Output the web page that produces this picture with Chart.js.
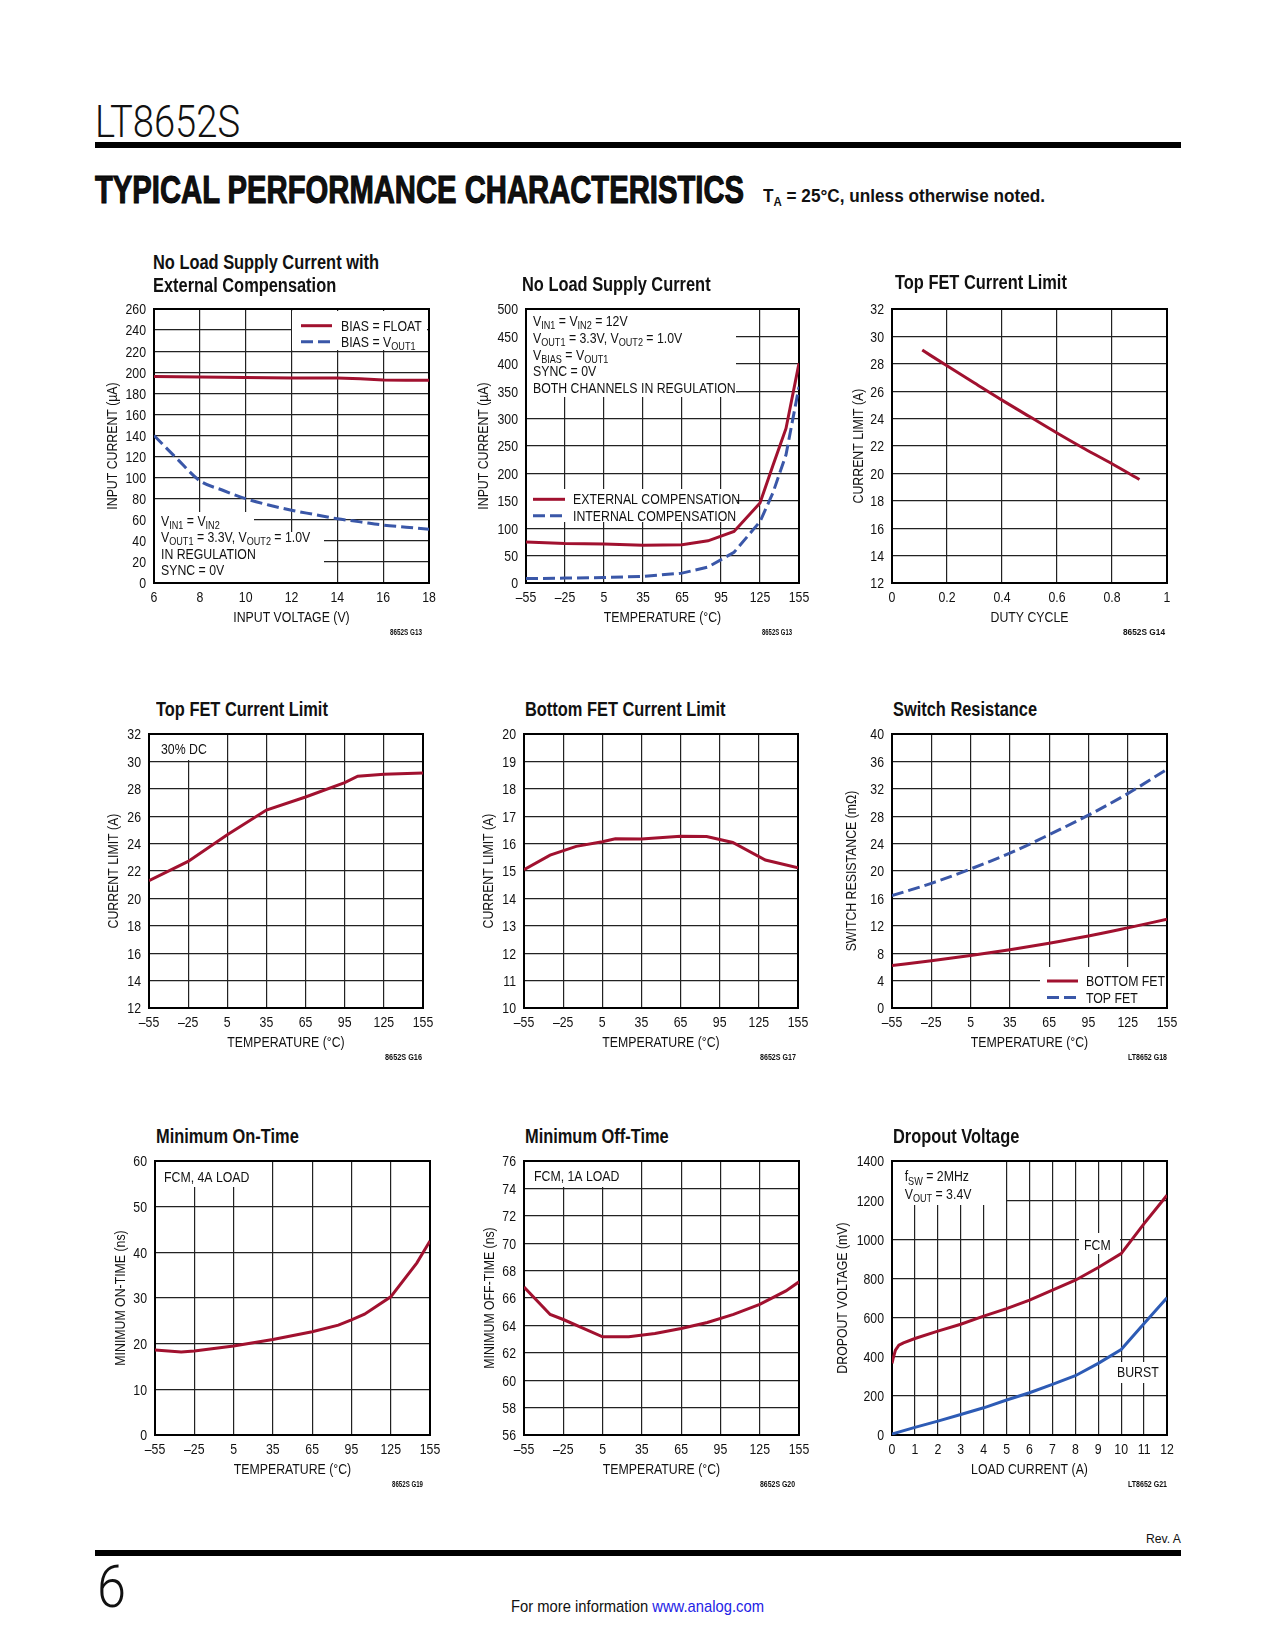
<!DOCTYPE html>
<html>
<head>
<meta charset="utf-8">
<script src="https://cdn.jsdelivr.net/npm/chart.js@4.4.1/dist/chart.umd.min.js"></script>
<style>
body { margin: 0; background: #fff; }
#page { position: relative; width: 1275px; height: 1650px; overflow: hidden;
  font-family: 'Liberation Sans', Arial, sans-serif; color: #111; }
.t { position: absolute; white-space: nowrap; line-height: 1; transform-origin: 0 0; }
.thin { font-family: Roboto, 'Liberation Sans', sans-serif; font-weight: 300; }
.bar { position: absolute; background: #000; }
canvas { position: absolute; }
</style>
</head>
<body>
<div id="page"></div>
<script>
// ---- data ----
// No Load Supply Current with External Compensation
const vinX = [6, 7, 8, 9, 10, 11, 12, 13, 14, 15, 16, 17, 18];
const iqBiasFloat = [196, 195.8, 195.5, 195.3, 195, 194.8, 194.5, 194.5, 194.5, 193.8, 192.7, 192.5, 192.4];
const iqBiasVout1 = [140, 118, 97, 88, 80, 74, 69, 65, 61, 58, 55, 53, 51];
const vinTicks = [6, 8, 10, 12, 14, 16, 18];
const iq1Ticks = [0, 20, 40, 60, 80, 100, 120, 140, 160, 180, 200, 220, 240, 260];

// No Load Supply Current vs temperature
const tempNL = [-55, -25, 5, 35, 65, 85, 105, 125, 135, 145, 155];
const iqExtComp = [75, 72, 71, 69, 70, 77, 94, 146, 215, 282, 401];
const iqIntComp = [8, 9, 10, 12, 18, 29, 56, 112, 165, 234, 358];
const tempTicks = [-55, -25, 5, 35, 65, 95, 125, 155];
const iq2Ticks = [0, 50, 100, 150, 200, 250, 300, 350, 400, 450, 500];

// Top FET current limit vs duty cycle
const dutyX = [0.11, 0.2, 0.3, 0.4, 0.5, 0.6, 0.7, 0.8, 0.9];
const topLimDuty = [29.0, 27.85, 26.6, 25.35, 24.15, 22.95, 21.8, 20.7, 19.55];
const dutyTicks = [0, 0.2, 0.4, 0.6, 0.8, 1];
const limTicks = [12, 14, 16, 18, 20, 22, 24, 26, 28, 30, 32];

// Top FET current limit vs temperature
const tempTop = [-55, -25, 5, 35, 65, 95, 105, 125, 155];
const topLimTemp = [21.3, 22.7, 24.65, 26.45, 27.4, 28.45, 28.92, 29.07, 29.15];

// Bottom FET current limit
const tempBot = [-55, -35, -15, 5, 15, 35, 65, 85, 105, 130, 155];
const botLimTemp = [15.05, 15.58, 15.9, 16.07, 16.18, 16.17, 16.27, 16.26, 16.04, 15.4, 15.12];
const botTicks = [10, 11, 12, 13, 14, 15, 16, 17, 18, 19, 20];

// Switch resistance
const tempRes = [-55, -25, 5, 35, 65, 95, 125, 155];
const rBottomFet = [6.2, 6.9, 7.65, 8.5, 9.45, 10.5, 11.7, 12.95];
const rTopFet = [16.4, 18.2, 20.3, 22.6, 25.3, 28.15, 31.3, 34.85];
const resTicks = [0, 4, 8, 12, 16, 20, 24, 28, 32, 36, 40];

// Minimum on-time
const tempOn = [-55, -35, -25, 5, 35, 65, 85, 95, 105, 125, 145, 155];
const minOnTime = [18.6, 18.15, 18.4, 19.5, 20.9, 22.6, 24.05, 25.2, 26.45, 30.25, 37.7, 42.5];
const onTicks = [0, 10, 20, 30, 40, 50, 60];

// Minimum off-time
const tempOff = [-55, -35, -25, 5, 25, 45, 65, 85, 105, 125, 145, 155];
const minOffTime = [66.8, 64.8, 64.43, 63.17, 63.17, 63.41, 63.78, 64.21, 64.8, 65.53, 66.52, 67.18];
const offTicks = [56, 58, 60, 62, 64, 66, 68, 70, 72, 74, 76];

// Dropout voltage
const loadFcm = [0, 0.05, 0.15, 0.3, 0.5, 1, 2, 3, 4, 5, 6, 7, 8, 9, 10, 11, 12];
const dropFcm = [366, 391, 434, 459, 471, 493, 531, 566, 607, 646, 689, 740, 791, 856, 927, 1080, 1225];
const loadBurst = [0, 1, 2, 3, 4, 5, 6, 7, 8, 9, 10, 11, 12];
const dropBurst = [5, 39, 71, 105, 139, 179, 216, 259, 303, 366, 437, 570, 701];
const loadTicks = [0, 1, 2, 3, 4, 5, 6, 7, 8, 9, 10, 11, 12];
const dropTicks = [0, 200, 400, 600, 800, 1000, 1200, 1400];

// ---- styling ----
const FAM = "'Liberation Sans', Arial, sans-serif";
const K = 0.82;          // horizontal squeeze, stands in for a condensed face
const LFS = 15;          // label font size
const RED = '#a1112f';
const BLUE = '#3a57a8';
const DASH = [12, 5];

const page = document.getElementById('page');

function txt(x, base, fs, html, opts) {
  opts = opts || {};
  const d = document.createElement('div');
  d.className = 't' + (opts.thin ? ' thin' : '');
  d.style.left = x + 'px';
  d.style.top = (base - 0.846 * fs) + 'px';
  d.style.fontSize = fs + 'px';
  if (opts.bold) d.style.fontWeight = 'bold';
  if (opts.w) d.dataset.w = opts.w;
  else d.style.transform = 'scaleX(' + K + ')';
  d.innerHTML = html;
  page.appendChild(d);
  return d;
}
function bar(x, y, w, h) {
  const d = document.createElement('div');
  d.className = 'bar';
  Object.assign(d.style, { left: x + 'px', top: y + 'px', width: w + 'px', height: h + 'px' });
  page.appendChild(d);
}

// condensed text with V_{OUT1} style subscripts
function drawText(ctx, s, x, y, o) {
  o = o || {};
  const fs = o.fs || LFS;
  const segs = s.split(/(_\{[^}]*\})/).filter(p => p).map(p => {
    const sub = p.startsWith('_{');
    return { t: sub ? p.slice(2, -1) : p, sub: sub };
  });
  const fontOf = sg => (sg.sub ? fs * 0.74 : fs) + 'px ' + FAM;
  let w = 0;
  segs.forEach(sg => { ctx.font = fontOf(sg); sg.w = ctx.measureText(sg.t).width; w += sg.w; });
  const x0 = o.align === 'center' ? -w * K / 2 : o.align === 'right' ? -w * K : 0;
  ctx.save();
  ctx.textAlign = 'left';
  ctx.textBaseline = 'alphabetic';
  ctx.translate(x + x0, y);
  ctx.scale(K, 1);
  let cx = 0;
  segs.forEach(sg => {
    ctx.font = fontOf(sg);
    ctx.fillText(sg.t, cx, sg.sub ? fs * 0.22 : 0);
    cx += sg.w;
  });
  ctx.restore();
}

const fmtTick = v => String(Number(v.toFixed(2))).replace('-', '\u2013');

function decorPlugin(s) {
  const n = s.notes || {};
  return {
    id: 'decor',
    beforeDatasetsDraw(chart) {
      const ctx = chart.ctx, a = chart.chartArea;
      ctx.save();
      ctx.fillStyle = '#fff';
      (n.boxes || []).forEach(b => ctx.fillRect(a.left + b[0], a.top + b[1], b[2] - b[0], b[3] - b[1]));
      ctx.strokeStyle = '#000';
      ctx.lineWidth = 2;
      ctx.strokeRect(a.left, a.top, a.right - a.left, a.bottom - a.top);
      ctx.fillStyle = '#111';
      (n.keys || []).forEach(k => {
        ctx.beginPath();
        ctx.strokeStyle = k.color;
        ctx.lineWidth = 3;
        ctx.setLineDash(k.dash || []);
        ctx.moveTo(a.left + k.x0, a.top + k.y);
        ctx.lineTo(a.left + k.x1, a.top + k.y);
        ctx.stroke();
        ctx.setLineDash([]);
        drawText(ctx, k.text, a.left + k.tx, a.top + k.y + 5);
      });
      (n.texts || []).forEach(t => drawText(ctx, t[2], a.left + t[0], a.top + t[1]));
      ctx.restore();
    },
    afterDraw(chart) {
      const ctx = chart.ctx, a = chart.chartArea;
      const sx = chart.scales.x, sy = chart.scales.y;
      const cap = 0.36 * LFS;
      ctx.save();
      ctx.fillStyle = '#111';
      s.xt.forEach(v => drawText(ctx, fmtTick(v), sx.getPixelForValue(v), a.bottom + 14 + cap, { align: 'center' }));
      s.yt.forEach(v => drawText(ctx, fmtTick(v), a.left - 8, sy.getPixelForValue(v) + cap, { align: 'right' }));
      drawText(ctx, s.xTitle, (a.left + a.right) / 2, a.bottom + 34 + cap, { align: 'center' });
      ctx.translate(a.left - s.d, (a.top + a.bottom) / 2);
      ctx.rotate(-Math.PI / 2);
      drawText(ctx, s.yTitle, 0, cap, { align: 'center' });
      ctx.restore();
    }
  };
}

function makeChart(s) {
  const padL = s.d + 14, padT = 14, padR = 30, padB = 50;
  const cv = document.createElement('canvas');
  cv.width = s.W + padL + padR;
  cv.height = s.H + padT + padB;
  cv.style.left = (s.L - padL) + 'px';
  cv.style.top = (s.T - padT) + 'px';
  page.appendChild(cv);
  const grid = { color: '#222', lineWidth: 1.2, drawTicks: false };
  new Chart(cv, {
    type: 'line',
    data: {
      datasets: s.series.map(r => ({
        data: r.x.map((x, i) => ({ x: x, y: r.y[i] })),
        borderColor: r.color,
        borderWidth: 3,
        borderDash: r.dash || [],
        pointRadius: 0,
        cubicInterpolationMode: r.smooth ? 'monotone' : 'default',
        tension: 0,
        fill: false
      }))
    },
    options: {
      responsive: false,
      animation: false,
      devicePixelRatio: 1,
      layout: { padding: { top: padT, right: padR, left: 0, bottom: 0 } },
      plugins: { legend: { display: false }, tooltip: { enabled: false } },
      scales: {
        x: {
          type: 'linear', min: s.xt[0], max: s.xt[s.xt.length - 1],
          afterBuildTicks: sc => { sc.ticks = s.xt.map(v => ({ value: v })); },
          afterFit: sc => { sc.height = padB; },
          grid: grid, border: { display: false },
          ticks: { display: false }
        },
        y: {
          type: 'linear', min: s.yt[0], max: s.yt[s.yt.length - 1],
          afterBuildTicks: sc => { sc.ticks = s.yt.map(v => ({ value: v })); },
          afterFit: sc => { sc.width = padL; },
          grid: grid, border: { display: false },
          ticks: { display: false }
        }
      }
    },
    plugins: [decorPlugin(s)]
  });
  s.title.forEach((line, i) => txt(s.tx, s.tb[i], 20, line, { bold: true }));
  txt(s.code[0], s.code[2], 8.5, s.code[3], { bold: true, w: s.code[1] });
}

// ---- page header / footer ----
txt(95, 137, 45, 'LT8652S', { w: 145, thin: true });
bar(95, 142, 1086, 6);
const head = txt(95, 203, 38, 'TYPICAL PERFORMANCE CHARACTERISTICS', { bold: true, w: 649 });
head.style.webkitTextStroke = '1px #000';
txt(763, 202, 18, 'T<sub style="font-size:12px;vertical-align:-4px">A</sub> = 25°C, unless otherwise noted.', { bold: true, w: 282 });
txt(1146, 1543, 13, 'Rev. A', { w: 35 });
bar(95, 1550, 1086, 6);
txt(97, 1608, 60, '6', { w: 29, thin: true });
txt(511, 1612, 17, 'For more information <span style="color:#2323e6">www.analog.com</span>', { w: 253 });

// ---- charts ----
makeChart({
  L: 154, T: 309, W: 275, H: 274, d: 42,
  xt: vinTicks, yt: iq1Ticks, xTitle: 'INPUT VOLTAGE (V)', yTitle: 'INPUT CURRENT (µA)',
  series: [
    { x: vinX, y: iqBiasFloat, color: RED },
    { x: vinX, y: iqBiasVout1, color: BLUE, dash: DASH, smooth: true }
  ],
  title: ['No Load Supply Current with', 'External Compensation'], tx: 153, tb: [269, 292],
  code: [390, 32, 635, '8652S G13'],
  notes: {
    boxes: [[138, 2, 273, 41], [0, 203, 100, 223], [0, 223, 170, 273]],
    keys: [
      { x0: 147, x1: 178, tx: 187, y: 16.7, color: RED, text: 'BIAS = FLOAT' },
      { x0: 147, x1: 178, tx: 187, y: 32.7, color: BLUE, dash: DASH, text: 'BIAS = V_{OUT1}' }
    ],
    texts: [[7, 217, 'V_{IN1} = V_{IN2}'], [7, 233, 'V_{OUT1} = 3.3V, V_{OUT2} = 1.0V'],
            [7, 249.5, 'IN REGULATION'], [7, 266, 'SYNC = 0V']]
  }
});

makeChart({
  L: 526, T: 309, W: 273, H: 274, d: 43,
  xt: tempTicks, yt: iq2Ticks, xTitle: 'TEMPERATURE (°C)', yTitle: 'INPUT CURRENT (µA)',
  series: [
    { x: tempNL, y: iqExtComp, color: RED },
    { x: tempNL, y: iqIntComp, color: BLUE, dash: DASH }
  ],
  title: ['No Load Supply Current'], tx: 522, tb: [291],
  code: [762, 30, 635, '8652S G13'],
  notes: {
    boxes: [[0, 0, 210, 88], [0, 180, 211, 213]],
    keys: [
      { x0: 7, x1: 39, tx: 47, y: 190.3, color: RED, text: 'EXTERNAL COMPENSATION' },
      { x0: 7, x1: 39, tx: 47, y: 206.7, color: BLUE, dash: DASH, text: 'INTERNAL COMPENSATION' }
    ],
    texts: [[7, 16.7, 'V_{IN1} = V_{IN2} = 12V'], [7, 33.7, 'V_{OUT1} = 3.3V, V_{OUT2} = 1.0V'],
            [7, 51, 'V_{BIAS} = V_{OUT1}'], [7, 66.7, 'SYNC = 0V'], [7, 83.7, 'BOTH CHANNELS IN REGULATION']]
  }
});

makeChart({
  L: 892, T: 309, W: 275, H: 274, d: 34,
  xt: dutyTicks, yt: limTicks, xTitle: 'DUTY CYCLE', yTitle: 'CURRENT LIMIT (A)',
  series: [{ x: dutyX, y: topLimDuty, color: RED, smooth: true }],
  title: ['Top FET Current Limit'], tx: 895, tb: [289],
  code: [1123, 42, 635, '8652S G14']
});

makeChart({
  L: 149, T: 734, W: 274, H: 274, d: 36,
  xt: tempTicks, yt: limTicks, xTitle: 'TEMPERATURE (°C)', yTitle: 'CURRENT LIMIT (A)',
  series: [{ x: tempTop, y: topLimTemp, color: RED }],
  title: ['Top FET Current Limit'], tx: 156, tb: [716],
  code: [385, 37, 1060, '8652S G16'],
  notes: { boxes: [[0, 0, 62, 26]], texts: [[12, 20.3, '30% DC']] }
});

makeChart({
  L: 524, T: 734, W: 274, H: 274, d: 36,
  xt: tempTicks, yt: botTicks, xTitle: 'TEMPERATURE (°C)', yTitle: 'CURRENT LIMIT (A)',
  series: [{ x: tempBot, y: botLimTemp, color: RED }],
  title: ['Bottom FET Current Limit'], tx: 525, tb: [716],
  code: [760, 36, 1060, '8652S G17']
});

makeChart({
  L: 892, T: 734, W: 275, H: 274, d: 41,
  xt: tempTicks, yt: resTicks, xTitle: 'TEMPERATURE (°C)', yTitle: 'SWITCH RESISTANCE (mΩ)',
  series: [
    { x: tempRes, y: rBottomFet, color: RED, smooth: true },
    { x: tempRes, y: rTopFet, color: BLUE, dash: DASH, smooth: true }
  ],
  title: ['Switch Resistance'], tx: 893, tb: [716],
  code: [1128, 39, 1060, 'LT8652 G18'],
  notes: {
    boxes: [[148, 233, 274, 273]],
    keys: [
      { x0: 155, x1: 186, tx: 194, y: 247, color: RED, text: 'BOTTOM FET' },
      { x0: 155, x1: 186, tx: 194, y: 263.6, color: BLUE, dash: DASH, text: 'TOP FET' }
    ]
  }
});

makeChart({
  L: 155, T: 1161, W: 275, H: 274, d: 35,
  xt: tempTicks, yt: onTicks, xTitle: 'TEMPERATURE (°C)', yTitle: 'MINIMUM ON-TIME (ns)',
  series: [{ x: tempOn, y: minOnTime, color: RED }],
  title: ['Minimum On-Time'], tx: 156, tb: [1143],
  code: [392, 31, 1487, '8652S G19'],
  notes: { boxes: [[0, 0, 98, 26]], texts: [[9, 21, 'FCM, 4A LOAD']] }
});

makeChart({
  L: 524, T: 1161, W: 275, H: 274, d: 35,
  xt: tempTicks, yt: offTicks, xTitle: 'TEMPERATURE (°C)', yTitle: 'MINIMUM OFF-TIME (ns)',
  series: [{ x: tempOff, y: minOffTime, color: RED }],
  title: ['Minimum Off-Time'], tx: 525, tb: [1143],
  code: [760, 35, 1487, '8652S G20'],
  notes: { boxes: [[0, 0, 98, 26]], texts: [[10, 20.3, 'FCM, 1A LOAD']] }
});

makeChart({
  L: 892, T: 1161, W: 275, H: 274, d: 50,
  xt: loadTicks, yt: dropTicks, xTitle: 'LOAD CURRENT (A)', yTitle: 'DROPOUT VOLTAGE (mV)',
  series: [
    { x: loadFcm, y: dropFcm, color: RED },
    { x: loadBurst, y: dropBurst, color: '#2d5bb5' }
  ],
  title: ['Dropout Voltage'], tx: 893, tb: [1143],
  code: [1128, 39, 1487, 'LT8652 G21'],
  notes: {
    boxes: [[0, 0, 114, 44], [187, 72, 228, 93], [221, 201, 270, 222]],
    texts: [[12.7, 20.3, 'f_{SW} = 2MHz'], [12.7, 37.6, 'V_{OUT} = 3.4V'],
            [192, 89, 'FCM'], [225, 215.6, 'BURST']]
  }
});

// squeeze header texts to the widths in the reference
document.querySelectorAll('[data-w]').forEach(el => {
  const w = el.getBoundingClientRect().width;
  el.style.transform = 'scaleX(' + (el.dataset.w / w) + ')';
});
</script>
</body>
</html>
